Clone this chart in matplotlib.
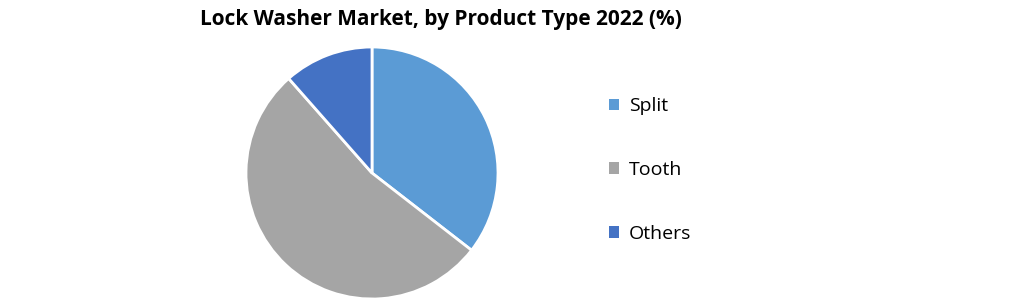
import matplotlib.pyplot as plt
from matplotlib.patches import Patch

labels = ["Split", "Tooth", "Others"]
shares = [35.5, 53.0, 11.5]
colors = ["#5B9BD5", "#A5A5A5", "#4472C4"]

plt.rcParams["font.family"] = ["Open Sans", "DejaVu Sans"]

fig = plt.figure(figsize=(10.2, 3.03), dpi=100)
W, H = 1020, 303
cx, cy, r = 372, 173, 126
ax = fig.add_axes([(cx - r) / W, (H - cy - r) / H, 2 * r / W, 2 * r / H])
ax.pie(shares, colors=colors, startangle=90, counterclock=False, radius=1,
       wedgeprops=dict(edgecolor="white", linewidth=2))
ax.set_xlim(-1, 1)
ax.set_ylim(-1, 1)
ax.set_aspect("auto")
ax.axis("off")

fig.text(441 / W, 1 - 20 / H, "Lock Washer Market, by Product Type 2022 (%)",
         ha="center", va="center", fontsize=15, fontweight="bold")

handles = [Patch(facecolor=c, edgecolor="none") for c in colors]
fig.legend(handles, labels, loc="center left", bbox_to_anchor=(591 / W, 1 - 170 / H),
           frameon=False, fontsize=14, handlelength=0.55, handleheight=0.55,
           handletextpad=0.5, labelspacing=2.35)

fig.savefig("out.png", dpi=100)
